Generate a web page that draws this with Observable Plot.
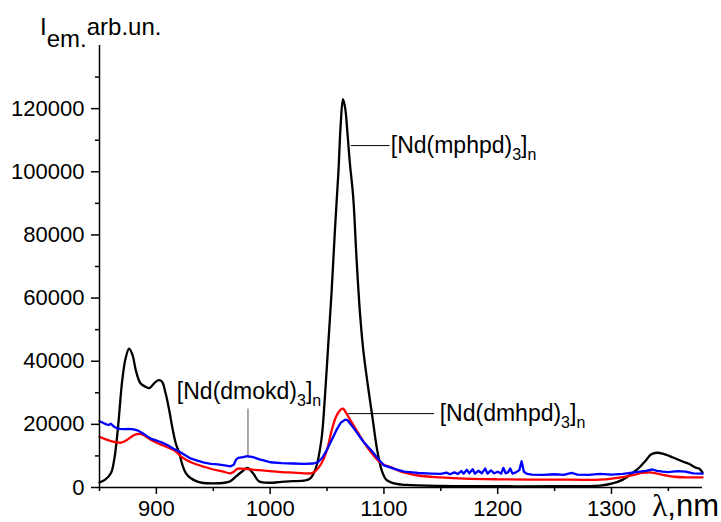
<!DOCTYPE html>
<html><head><meta charset="utf-8">
<script src="https://cdn.jsdelivr.net/npm/d3@7"></script>
<script src="https://cdn.jsdelivr.net/npm/@observablehq/plot@0.6"></script>
<style>body{margin:0;background:#fff} #chart{width:721px;height:522px}</style>
</head><body><div id="chart"></div>
<script>
// [Nd(mphpd)3]n — black
const blackNm = [850,855,860,863,866,870,873,876,879,882,886,890,894,898,902,905,908,911,914,917,920,923,926,930,935,940,960,965,970,975,980,985,990,1000,1010,1020,1030,1035,1040,1045,1048,1051,1054,1057,1060,1062,1064,1066,1068,1070,1073,1076,1079,1082,1086,1090,1094,1098,1102,1110,1120,1150,1200,1250,1290,1300,1310,1320,1325,1330,1335,1340,1345,1354,1362,1368,1374,1377,1380];
const blackI  = [1600,2500,4500,9000,18000,34000,41000,44000,42000,37000,33000,32000,31500,33000,34000,33500,30000,25000,19000,14000,11000,7000,4500,3000,2000,1500,1500,2000,3500,5000,6200,4500,2000,1500,1800,2000,2200,2800,6000,15000,28000,45000,62000,82000,100000,115000,123000,120000,112000,103000,92000,72000,55000,43000,32000,22000,12000,5500,2500,1200,800,500,400,400,600,1200,2500,5000,6500,8500,10500,11000,10700,9500,8300,7500,6300,6000,4800];
// [Nd(dmhpd)3]n — red
const redNm = [850,855,860,865,869,873,877,881,885,889,893,897,901,906,912,917,921,926,933,940,950,958,965,968,971,975,980,990,1000,1010,1020,1030,1036,1040,1045,1050,1054,1058,1062,1064,1067,1071,1077,1083,1089,1095,1100,1107,1115,1130,1150,1171,1200,1250,1290,1300,1310,1320,1327,1333,1340,1348,1355,1365,1380];
const redI  = [16100,15300,14700,14300,14200,14800,15800,16700,17000,16600,15600,14700,14000,13300,12400,11400,10000,8800,7600,6800,5700,5100,4500,5000,5900,6000,5800,5500,5200,4900,4700,4500,4500,5300,7600,12000,18000,22500,24700,25000,23500,21000,17500,14000,11000,8500,7200,6300,5000,3800,3200,2800,2600,2500,2500,2800,3300,4000,4600,4800,4400,3800,3400,3200,3200];
// [Nd(dmokd)3]n — blue
const blueNm = [850,853,856,858,860,862,865,868,872,876,880,884,888,892,896,900,905,910,915,920,925,930,936,942,948,954,960,965,968,970,972,976,980,985,990,995,1000,1010,1020,1030,1038,1042,1046,1050,1054,1058,1062,1066,1068,1072,1077,1082,1089,1095,1100,1110,1118,1130,1142,1150,1155,1158,1162,1165,1168,1170,1173,1175,1178,1180,1183,1186,1189,1191,1194,1197,1200,1203,1205,1207,1209,1211,1213,1216,1219,1221,1223,1226,1230,1240,1250,1258,1265,1270,1280,1290,1300,1310,1320,1330,1336,1340,1345,1350,1358,1365,1372,1380];
const blueI  = [21000,20500,20000,19800,20200,19500,18800,18600,18500,18600,18400,18000,17200,16200,15300,14900,14200,13400,12300,11400,10300,9200,8500,7900,7500,7300,7000,6700,7200,8800,9400,9600,9900,9600,9000,8500,8000,7700,7600,7500,7600,8000,9500,12000,15000,18000,20500,21500,21300,19500,17000,14500,11700,9000,7000,5800,5000,4600,4400,4300,4700,4200,4800,4300,5200,4400,5600,4500,5800,4400,5300,4500,6000,4400,5400,4500,5000,4400,6200,4500,4800,6000,4400,4800,5500,8300,5000,4300,4100,4000,4200,4000,4600,4100,4000,4300,4100,4300,4800,5300,5700,5300,5000,4900,5200,5000,4500,4400];

const yMajor = [0,20000,40000,60000,80000,100000,120000];
const yMinor = [10000,30000,50000,70000,90000,110000,130000];
const xMajor = [900,1000,1100,1200,1300];
const xMinor = [850,950,1050,1150,1250,1350];

const labelText = ["[Nd(mphpd)_3]_n", "[Nd(dmhpd)_3]_n", "[Nd(dmokd)_3]_n"];
const labelX = [1106, 1149, 918];
const labelY = [108300, 23400, 30500];
// leader lines [x1, y1, x2, y2]
const leaders = [[1071, 108300, 1105, 108300], [1068.5, 23400, 1144, 23400], [980.5, 25000, 980.5, 10000]];
const leaderColor = ["#000", "#000", "#555"];

const toRows = (xs, ys) => xs.map((x, i) => ({x, y: ys[i]}));
const labels = labelText.map((t, i) => ({t, x: labelX[i], y: labelY[i]}));
const links = leaders.map((l, i) => ({x1: l[0], y1: l[1], x2: l[2], y2: l[3], c: leaderColor[i]}));

const fmt = d => String(d);
const plot = Plot.plot({
  width: 721, height: 522,
  marginLeft: 99, marginRight: 19, marginTop: 45, marginBottom: 35,
  style: {fontFamily: "'Liberation Sans', Arial, sans-serif", fontSize: "22px", color: "#000", background: "#fff", overflow: "visible"},
  x: {domain: [850, 1380]},
  y: {domain: [0, 140000]},
  marks: [
    Plot.axisY(yMajor, {tickSize: 8, tickPadding: 7, tickFormat: fmt, label: null, strokeWidth: 1.5}),
    Plot.axisY(yMinor, {tickSize: 4, text: null, label: null, strokeWidth: 1.5}),
    Plot.axisX(xMajor, {tickSize: 7, tickPadding: 6, tickFormat: fmt, label: null, strokeWidth: 1.5}),
    Plot.axisX(xMinor, {tickSize: 4, text: null, label: null, strokeWidth: 1.5}),
    Plot.line(toRows(blackNm, blackI), {x: "x", y: "y", stroke: "#000", strokeWidth: 2.3, curve: "catmull-rom"}),
    Plot.line(toRows(redNm, redI), {x: "x", y: "y", stroke: "#ff0000", strokeWidth: 2.3, curve: "catmull-rom"}),
    Plot.line(toRows(blueNm, blueI), {x: "x", y: "y", stroke: "#0000ff", strokeWidth: 2.3}),
    Plot.ruleX([850], {strokeWidth: 1.5}),
    Plot.ruleY([0], {strokeWidth: 1.5}),
    Plot.link(links, {x1: "x1", y1: "y1", x2: "x2", y2: "y2", stroke: "c", strokeWidth: 1}),
    Plot.text(labels, {x: "x", y: "y", text: "t", textAnchor: "start", fontSize: 23, className: "anno"})
  ]
});
document.getElementById("chart").appendChild(plot);

const svg = d3.select(plot);
// subscripts in annotations
svg.selectAll("g.anno text").each(function() {
  const el = d3.select(this);
  const s = el.text();
  el.text(null);
  const parts = s.split("_");
  el.append("tspan").text(parts[0]);
  for (let i = 1; i < parts.length; i++) {
    el.append("tspan").attr("dy", 7).attr("font-size", 16).text(parts[i][0]);
    if (parts[i].length > 1) el.append("tspan").attr("dy", -7).text(parts[i].slice(1));
  }
});
// y-axis title
const yt = svg.append("text").attr("x", 40).attr("y", 35).attr("text-anchor", "start").attr("font-size", 24).attr("fill", "#000");
yt.append("tspan").text("I");
yt.append("tspan").attr("dy", 12).text("em.");
yt.append("tspan").attr("dy", -12).text("arb.un.");
// x-axis title
const xt = svg.append("text").attr("x", 719).attr("y", 516).attr("text-anchor", "end").attr("font-size", 31).attr("fill", "#000");
xt.append("tspan").attr("font-family", "'Liberation Serif', 'DejaVu Serif', serif").text("λ");
xt.append("tspan").text(",nm");
</script>
</body></html>
